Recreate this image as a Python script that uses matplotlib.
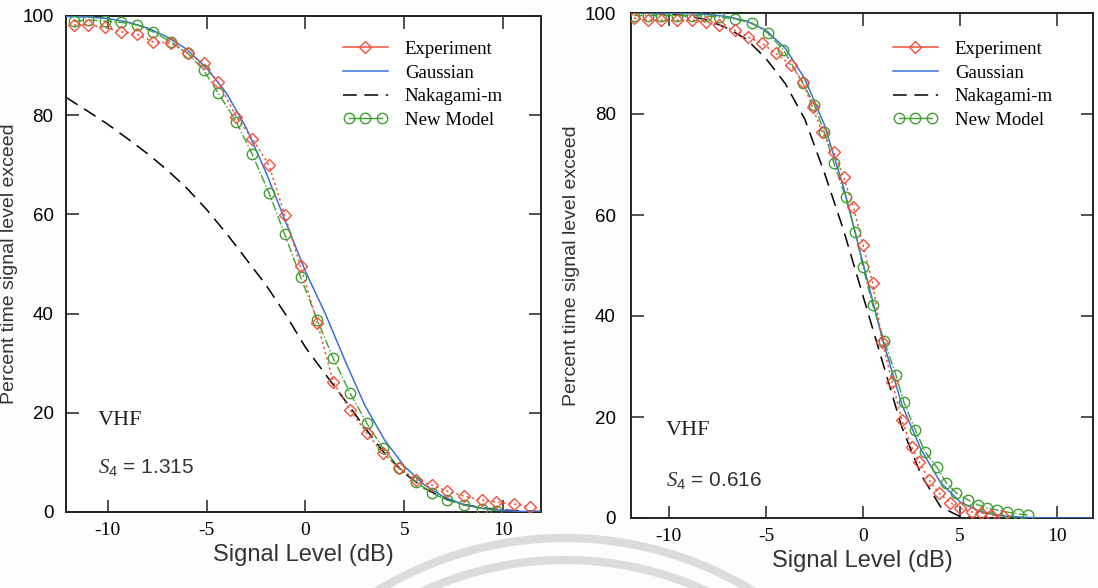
import numpy as np
import matplotlib
matplotlib.use("Agg")
import matplotlib.pyplot as plt
from matplotlib.lines import Line2D
from matplotlib.legend_handler import HandlerLine2D
from matplotlib.patches import Arc
from matplotlib.transforms import IdentityTransform

plt.rcParams['axes.unicode_minus'] = False
plt.rcParams['mathtext.fontset'] = 'custom'
plt.rcParams['mathtext.it'] = 'Liberation Serif:italic'
plt.rcParams['mathtext.rm'] = 'Liberation Sans'

RED = "#f0503c"
BLUE = "#3a6fd8"
GREEN = "#3f9f2f"

# ---- S4 = 1.315 ----
exp1_x = [-11.7, -11.0, -10.15, -9.3, -8.5, -7.7, -6.8, -5.95, -5.15, -4.4, -3.5, -2.7, -1.85, -1.05,
          -0.25, 0.6, 1.4, 2.25, 3.1, 3.9, 4.75, 5.6, 6.4, 7.15, 8.0, 8.9, 9.65, 10.55, 11.35]
exp1_y = [98.2, 98.2, 97.7, 96.8, 96.3, 94.8, 94.5, 92.5, 90.5, 86.6, 79.7, 75.3, 70.0, 59.9,
          49.5, 38.2, 26.2, 20.6, 15.9, 11.9, 8.9, 6.5, 5.4, 4.2, 3.2, 2.4, 2.0, 1.6, 1.0]
new1_x = [-11.7, -11.0, -10.15, -9.3, -8.5, -7.7, -6.8, -5.95, -5.15, -4.4, -3.5, -2.7, -1.85, -1.05,
          -0.25, 0.6, 1.4, 2.25, 3.1, 3.9, 4.75, 5.6, 6.4, 7.15, 8.0, 8.9, 9.65]
new1_y = [98.9, 99.2, 99.0, 98.7, 98.2, 96.8, 94.8, 92.5, 89.1, 84.4, 78.7, 72.2, 64.4, 56.0,
          47.4, 38.7, 31.0, 24.0, 17.9, 12.9, 8.9, 6.0, 3.8, 2.4, 1.4, 0.7, 0.3]
gau1_x = [-12.1, -11, -10, -9, -8, -7, -6, -5, -4, -3, -2, -1, 0, 1, 2, 3, 4, 5, 6, 7, 8, 9, 10, 11, 11.9]
gau1_y = [99.9, 99.8, 99.5, 98.8, 97.6, 95.8, 93.3, 89.5, 84.5, 77.5, 68.5, 58.5, 48.5, 40.0, 30.5,
          21.5, 14.5, 9.2, 5.5, 3.0, 1.5, 0.7, 0.3, 0.1, 0.0]
nak1_x = [-12.1, -11, -10, -9, -8, -7, -6, -5, -4, -3, -2, -1, 0, 1, 2, 3, 4, 5, 6, 7, 8, 9, 10, 11, 11.9]
nak1_y = [83.6, 80.8, 78.2, 75.3, 72.3, 69.0, 65.3, 61.0, 56.2, 51.0, 45.8, 39.8, 33.2, 27.8, 22.5,
          17.0, 11.8, 7.8, 4.8, 2.8, 1.5, 0.8, 0.4, 0.2, 0.1]

# ---- S4 = 0.616 ----
exp2_x = [-11.8, -11.1, -10.4, -9.6, -8.8, -8.1, -7.4, -6.6, -5.9, -5.2, -4.5, -3.7, -3.1, -2.6, -2.1,
          -1.5, -1.0, -0.5, 0.0, 0.5, 1.0, 1.5, 2.0, 2.5, 2.9, 3.4, 3.9, 4.5, 5.0, 5.6, 6.1, 6.6, 7.2]
exp2_y = [99.0, 98.6, 98.6, 98.6, 98.6, 98.2, 97.6, 96.6, 95.2, 94.0, 92.0, 89.7, 86.3, 81.4, 76.4,
          72.5, 67.5, 61.6, 54.1, 46.5, 34.8, 27.0, 19.4, 14.1, 11.1, 7.5, 5.0, 3.0, 2.0, 1.2, 1.0, 0.6, 0.4]
new2_x = [-11.8, -11.1, -10.4, -9.6, -8.8, -8.1, -7.4, -6.6, -5.7, -4.9, -4.1, -3.1, -2.5, -2.0, -1.5,
          -0.9, -0.4, 0.0, 0.5, 1.1, 1.7, 2.1, 2.7, 3.2, 3.8, 4.3, 4.8, 5.4, 5.9, 6.4, 6.9, 7.4, 8.0, 8.5]
new2_y = [99.5, 99.5, 99.5, 99.5, 99.5, 99.4, 99.2, 98.8, 98.0, 96.0, 92.7, 86.1, 81.8, 76.4, 70.3,
          63.6, 56.6, 49.7, 42.2, 35.0, 28.3, 23.0, 17.4, 13.1, 10.1, 6.9, 5.0, 3.6, 2.6, 2.0, 1.6, 1.2, 0.8, 0.6]
gau2_x = [-12, -11, -10, -9, -8, -7, -6, -5, -4, -3, -2, -1, 0, 1, 2, 3, 4, 5, 6, 7, 8, 9, 10, 11, 12]
gau2_y = [100, 100, 99.95, 99.9, 99.7, 99.3, 98.4, 96.6, 93.0, 87.0, 78.0, 65.5, 50.5, 35.5, 22.5,
          13.5, 7.0, 3.2, 1.3, 0.5, 0.2, 0.05, 0.0, 0.0, 0.0]
nak2_x = [-12, -11, -10, -9, -8, -7, -6, -5, -4, -3, -2, -1, 0, 1, 2, 3, 4, 5, 6, 12]
nak2_y = [100, 99.9, 99.8, 99.4, 98.6, 97.0, 94.8, 91.0, 86.0, 79.0, 68.5, 57.0, 44.0, 31.0, 18.0,
          8.5, 2.2, 0.3, 0.0, 0.0]

panels = [
    dict(exp=(exp1_x, exp1_y), new=(new1_x, new1_y), gau=(gau1_x, gau1_y), nak=(nak1_x, nak1_y),
         s4="1.315", rect=[66/1098, 76/588, 475/1098, 496/588], xlim=(-12.1, 11.9),
         leg=(0.583, 0.950), txt=(-10.5, 18.5, 8.9), ypad=9, ylab_x=-0.101),
    dict(exp=(exp2_x, exp2_y), new=(new2_x, new2_y), gau=(gau2_x, gau2_y), nak=(nak2_x, nak2_y),
         s4="0.616", rect=[631/1098, 70/588, 462/1098, 505/588], xlim=(-11.95, 11.85),
         leg=(0.567, 0.945), txt=(-10.15, 17.4, 7.5), ypad=11, ylab_x=-0.110),
]

fig = plt.figure(figsize=(10.98, 5.88), dpi=100, facecolor="#fdfdfb")

for p in panels:
    ax = fig.add_axes(p["rect"])
    ax.set_facecolor("white")
    ax.plot(*p["nak"], color="black", lw=1.1, ls=(0, (9, 5)), zorder=2)
    ax.plot(*p["gau"], color=BLUE, lw=1.1, zorder=3)
    ax.plot(*p["new"], color=GREEN, lw=1.0, ls="-.", marker="o", ms=7.5, mfc="none",
            mec=GREEN, mew=1.0, zorder=4)
    ax.plot(*p["exp"], color=RED, lw=1.1, ls=(0, (1.5, 2)), marker="D", ms=6, mfc="none",
            mec=RED, mew=1.0, zorder=5)

    ax.set_xlim(*p["xlim"])
    ax.set_ylim(0, 100)
    ax.set_xticks([-10, -5, 0, 5, 10])
    ax.set_yticks([0, 20, 40, 60, 80, 100])
    ax.tick_params(direction="in", length=9, width=1.1, top=True, right=True, color="#222222")
    ax.tick_params(axis="x", pad=7, labelsize=14, labelfontfamily="Liberation Serif")
    ax.tick_params(axis="y", pad=p["ypad"], labelsize=13.5, labelfontfamily="Liberation Sans")
    for s in ax.spines.values():
        s.set_linewidth(1.4)
        s.set_color("#222222")

    ax.set_xlabel("Signal Level (dB)", fontsize=17, family="Liberation Sans", color="#333333",
                  labelpad=4)
    ax.set_ylabel("Percent time signal level exceed", fontsize=14, family="Liberation Sans",
                  color="#333333")
    ax.yaxis.set_label_coords(p["ylab_x"], 0.5)

    tx, ty1, ty2 = p["txt"]
    ax.text(tx, ty1, "VHF", fontsize=16, family="Liberation Serif", va="center", color="#222222")
    ax.text(tx, ty2, r"$\mathit{S}_\mathrm{4}$ = " + p["s4"], fontsize=15,
            family="Liberation Sans", va="center", color="#333333")

    handles = [
        Line2D([], [], color=RED, lw=1.1, marker="D", ms=6, mfc="none", mec=RED),
        Line2D([], [], color=BLUE, lw=1.1),
        Line2D([], [], color="black", lw=1.1, ls=(0, (9, 5))),
        Line2D([], [], color=GREEN, lw=1.0, marker="o", ms=7.5, mfc="none", mec=GREEN),
    ]
    ax.legend(handles, ["Experiment", "Gaussian", "Nakagami-m", "New Model"],
              loc="upper left", bbox_to_anchor=p["leg"], frameon=False, borderpad=0,
              borderaxespad=0, handlelength=2.4, handletextpad=0.9, labelspacing=0.35,
              prop={"family": "Liberation Serif", "size": 13.5},
              handler_map={handles[0]: HandlerLine2D(numpoints=1),
                           handles[3]: HandlerLine2D(numpoints=3)})

# faint arcs along the bottom edge
for r in (360, 338):
    fig.add_artist(Arc((565, -310), 2 * r, 2 * r, theta1=55, theta2=125, lw=6,
                       color="#dcdcdc", transform=IdentityTransform(), zorder=0))

fig.savefig("out.png", dpi=100, facecolor=fig.get_facecolor())
